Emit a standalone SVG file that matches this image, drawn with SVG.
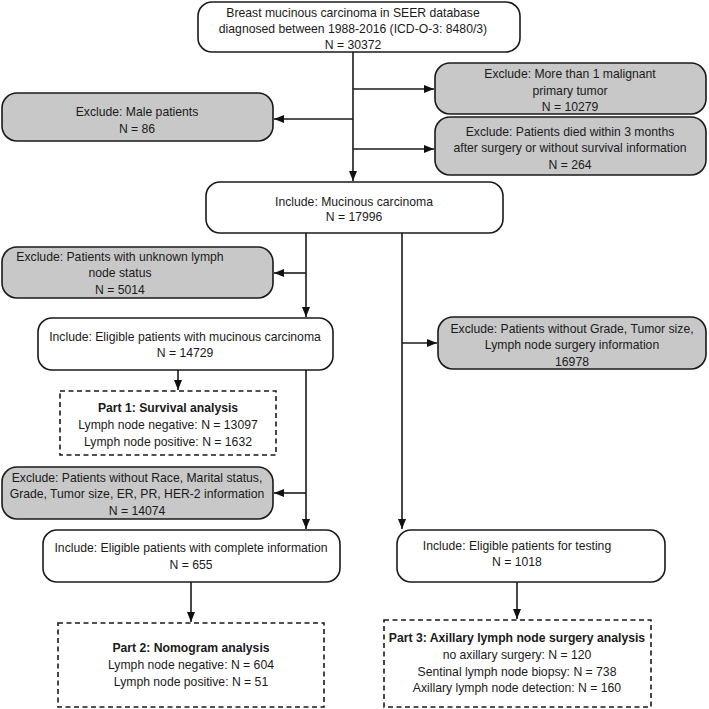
<svg xmlns="http://www.w3.org/2000/svg" width="709" height="709" viewBox="0 0 709 709">
<defs>
<marker id="ah" viewBox="0 0 10 8" refX="10" refY="4" markerWidth="10" markerHeight="8" markerUnits="userSpaceOnUse" orient="auto">
<path d="M0,0 L10,4 L0,8 Z" fill="#111"/>
</marker>
<style>
.box{fill:#fff;stroke:#1a1a1a;stroke-width:1.6}
.ex{fill:#c8c8c8;stroke:#1a1a1a;stroke-width:1.6}
.dash{fill:#fff;stroke:#1a1a1a;stroke-width:1.6;stroke-dasharray:5,3.5}
text{font-family:"Liberation Sans",Arial,sans-serif;font-size:12.2px;fill:#1a1a1a;text-anchor:middle}
.b{font-weight:bold}
.ln{fill:none;stroke:#1a1a1a;stroke-width:1.6}
</style>
</defs>
<rect width="709" height="709" fill="#fff"/>
<g id="connectors">
<path class="ln" d="M353,52 V181" marker-end="url(#ah)"/>
<path class="ln" d="M353,89 H434" marker-end="url(#ah)"/>
<path class="ln" d="M353,149 H434" marker-end="url(#ah)"/>
<path class="ln" d="M353,119 H274" marker-end="url(#ah)"/>
<path class="ln" d="M306,233 V317" marker-end="url(#ah)"/>
<path class="ln" d="M306,273 H274" marker-end="url(#ah)"/>
<path class="ln" d="M306,370 V529" marker-end="url(#ah)"/>
<path class="ln" d="M306,493 H274" marker-end="url(#ah)"/>
<path class="ln" d="M178,370 V390" marker-end="url(#ah)"/>
<path class="ln" d="M402,233 V529" marker-end="url(#ah)"/>
<path class="ln" d="M402,343 H437" marker-end="url(#ah)"/>
<path class="ln" d="M191,582 V622" marker-end="url(#ah)"/>
<path class="ln" d="M517,582 V619" marker-end="url(#ah)"/>
</g>
<g id="n1">
<rect class="box" x="198" y="2" width="322" height="50" rx="14"/>
<text x="353" y="17">Breast mucinous carcinoma in SEER database</text>
<text x="353" y="33">diagnosed between 1988-2016 (ICD-O-3: 8480/3)</text>
<text x="353" y="49">N = 30372</text>
</g>
<g id="n2">
<rect class="ex" x="2" y="93" width="271" height="48" rx="15"/>
<text x="137" y="116">Exclude: Male patients</text>
<text x="137" y="133">N = 86</text>
</g>
<g id="n3">
<rect class="ex" x="435" y="63" width="271" height="51" rx="15"/>
<text x="570" y="78">Exclude: More than 1 malignant</text>
<text x="570" y="95">primary tumor</text>
<text x="570" y="111">N = 10279</text>
</g>
<g id="n4">
<rect class="ex" x="435" y="117" width="271" height="58" rx="15"/>
<text x="570" y="136">Exclude: Patients died within 3 months</text>
<text x="570" y="152">after surgery or without survival information</text>
<text x="570" y="169">N = 264</text>
</g>
<g id="n5">
<rect class="box" x="206" y="182" width="297" height="51" rx="14"/>
<text x="354" y="206">Include: Mucinous carcinoma</text>
<text x="354" y="221">N = 17996</text>
</g>
<g id="n6">
<rect class="ex" x="2" y="247" width="271" height="51" rx="15"/>
<text x="120" y="261">Exclude: Patients with unknown lymph</text>
<text x="120" y="277">node status</text>
<text x="120" y="294">N = 5014</text>
</g>
<g id="n7">
<rect class="box" x="38" y="318" width="295" height="52" rx="14"/>
<text x="185" y="341">Include: Eligible patients with mucinous carcinoma</text>
<text x="185" y="357">N = 14729</text>
</g>
<g id="n8">
<rect class="dash" x="60" y="391" width="216" height="64"/>
<text class="b" x="168" y="412">Part 1: Survival analysis</text>
<text x="168" y="429">Lymph node negative: N = 13097</text>
<text x="168" y="446">Lymph node positive: N = 1632</text>
</g>
<g id="n9">
<rect class="ex" x="438" y="317" width="268" height="52" rx="15"/>
<text x="572" y="333">Exclude: Patients without Grade, Tumor size,</text>
<text x="572" y="349">Lymph node surgery information</text>
<text x="572" y="366">16978</text>
</g>
<g id="n10">
<rect class="ex" x="2" y="467" width="271" height="52" rx="15"/>
<text x="137" y="482">Exclude: Patients without Race, Marital status,</text>
<text x="137" y="498">Grade, Tumor size, ER, PR, HER-2 information</text>
<text x="137" y="515">N = 14074</text>
</g>
<g id="n11">
<rect class="box" x="43" y="530" width="297" height="52" rx="14"/>
<text x="191" y="552">Include: Eligible patients with complete information</text>
<text x="191" y="569">N = 655</text>
</g>
<g id="n12">
<rect class="box" x="397" y="530" width="268" height="52" rx="14"/>
<text x="517" y="550">Include: Eligible patients for testing</text>
<text x="517" y="566">N = 1018</text>
</g>
<g id="n13">
<rect class="dash" x="58" y="623" width="266" height="84"/>
<text class="b" x="191" y="652">Part 2: Nomogram analysis</text>
<text x="191" y="669">Lymph node negative: N = 604</text>
<text x="191" y="686">Lymph node positive: N = 51</text>
</g>
<g id="n14">
<rect class="dash" x="384" y="620" width="267" height="87"/>
<text class="b" x="517" y="642">Part 3: Axillary lymph node surgery analysis</text>
<text x="517" y="659">no axillary surgery: N = 120</text>
<text x="517" y="676">Sentinal lymph node biopsy: N = 738</text>
<text x="517" y="692">Axillary lymph node detection: N = 160</text>
</g>
</svg>
